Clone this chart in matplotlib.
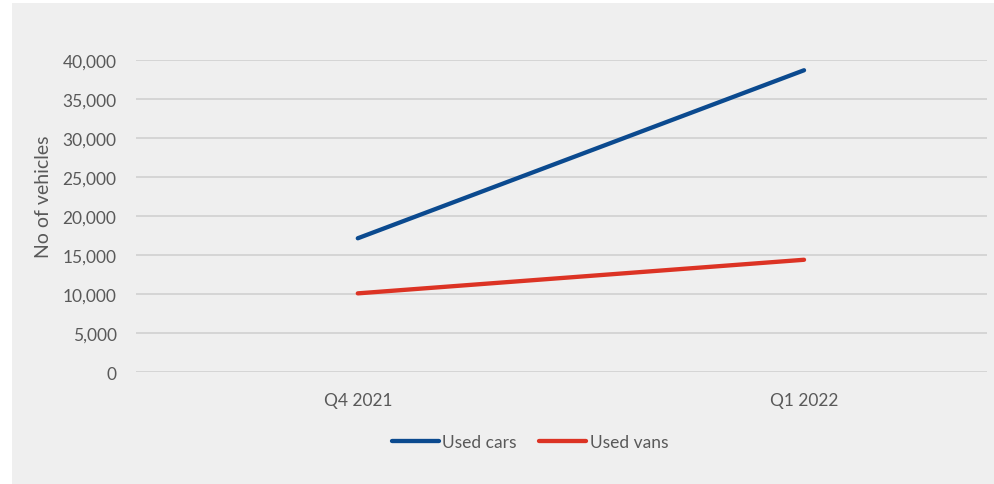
import matplotlib
matplotlib.use("Agg")
import matplotlib.pyplot as plt
from matplotlib.patches import Rectangle
from matplotlib.ticker import FuncFormatter

plt.rcParams["font.family"] = ["Lato", "DejaVu Sans"]

quarters = ["Q4 2021", "Q1 2022"]
used_cars = [17150, 38650]
used_vans = [10100, 14400]

text_color = "#595959"
blue = "#0B4A8F"
red = "#DC3324"

fig = plt.figure(figsize=(9.95, 4.85), dpi=100)
fig.patch.set_facecolor("white")
fig.add_artist(Rectangle((12 / 995, 0), (994 - 12) / 995, 1 - 4 / 485,
                         transform=fig.transFigure, facecolor="#efefef",
                         edgecolor="none", zorder=-10))

ax = fig.add_axes([136 / 995, 1 - 373.3 / 485, (987 - 136) / 995, (373.3 - 60.7) / 485])
ax.set_facecolor("none")

x = list(range(len(quarters)))
ax.plot(x, used_cars, color=blue, lw=3.1, solid_capstyle="round", label="Used cars")
ax.plot(x, used_vans, color=red, lw=3.1, solid_capstyle="round", label="Used vans")

ax.set_ylim(0, 40000)
ax.set_yticks(range(0, 40001, 5000))
ax.yaxis.set_major_formatter(FuncFormatter(lambda v, p: f"{int(v):,}"))
ax.set_xlim(-0.497, 1.41)
ax.set_xticks(x)
ax.set_xticklabels(quarters)

ax.grid(axis="y", color="#d0d0d0", lw=1.2)
ax.set_axisbelow(True)
for s in ax.spines.values():
    s.set_visible(False)
ax.tick_params(length=0, labelsize=12.5, labelcolor=text_color)
ax.tick_params(axis="y", pad=14)
ax.tick_params(axis="x", pad=14)

ax.set_ylabel("No of vehicles", fontsize=14, color=text_color, va="center")
ax.yaxis.set_label_coords(-0.109, 0.564)

fig.legend(loc="center", bbox_to_anchor=(530 / 995, 1 - 443 / 485), ncol=2,
           frameon=False, fontsize=12.5, labelcolor=text_color,
           handlelength=2.7, handletextpad=0.2, columnspacing=1.3)

fig.savefig("out.png", dpi=100)
